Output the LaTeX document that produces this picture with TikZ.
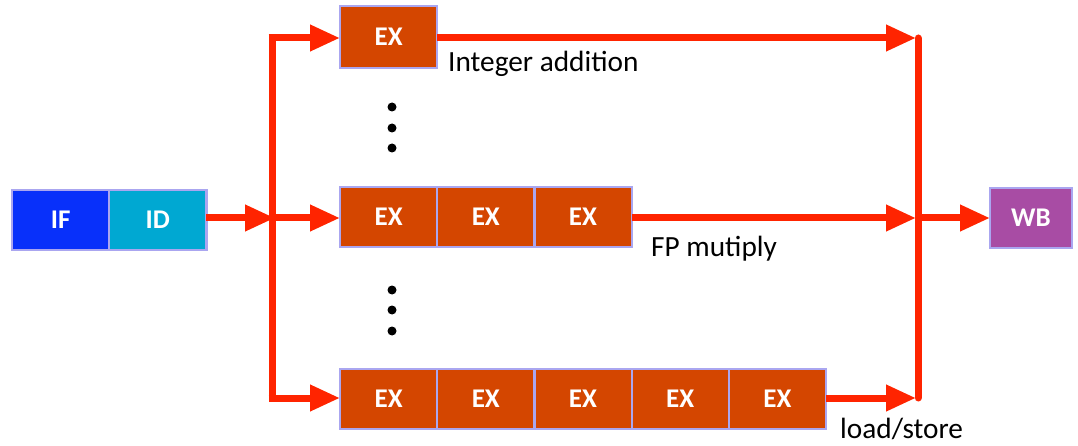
\documentclass[tikz,border=0pt]{standalone}
\usepackage{fontspec}
\setmainfont{Carlito}
\usetikzlibrary{arrows.meta,positioning}
\definecolor{ifblue}{RGB}{8,48,250}
\definecolor{idcyan}{RGB}{0,168,210}
\definecolor{exorange}{RGB}{212,70,0}
\definecolor{wbpurple}{RGB}{168,76,164}
\definecolor{edge}{RGB}{170,166,240}
\definecolor{wire}{RGB}{255,36,0}
\tikzset{
  stage/.style={draw=edge, line width=2.2pt, minimum width=97.2pt, minimum height=60pt,
    inner sep=0pt, outer sep=0pt, text=white, font=\fontsize{27}{30}\selectfont\bfseries},
  exbox/.style={stage, fill=exorange},
  bus/.style={wire, line width=7pt},
  flow/.style={wire, line width=7pt, -{Triangle[length=30pt,width=25pt]}},
  note/.style={font=\fontsize{29.3}{32}\selectfont, inner sep=0pt, anchor=base west},
  dot/.style={circle, fill=black, inner sep=0pt, minimum size=9pt}
}
\begin{document}
\begin{tikzpicture}[x=1pt,y=-1pt]
\useasboundingbox (0,0) rectangle (1078,446);
% front end
\node[stage, fill=ifblue, anchor=west] (if) at (12,220) {IF};
\node[stage, fill=idcyan, anchor=west] (id) at (if.east) {ID};
% split and merge points
\coordinate (ls) at (272,218);
\coordinate (lt) at (272,38);
\coordinate (lb) at (272,398);
\coordinate (rs) at (918,218);
\coordinate (rt) at (918,38);
\coordinate (rb) at (918,398);
% integer unit
\node[exbox, anchor=west, minimum height=62pt] (e1) at (340,37) {EX};
% FP multiply unit
\node[exbox, anchor=west] (m1) at (340,217) {EX};
\node[exbox, anchor=west] (m2) at (m1.east) {EX};
\node[exbox, anchor=west] (m3) at (m2.east) {EX};
% load/store unit
\node[exbox, anchor=west] (l1) at (340,399) {EX};
\node[exbox, anchor=west] (l2) at (l1.east) {EX};
\node[exbox, anchor=west] (l3) at (l2.east) {EX};
\node[exbox, anchor=west] (l4) at (l3.east) {EX};
\node[exbox, anchor=west] (l5) at (l4.east) {EX};
% write back
\node[stage, fill=wbpurple, anchor=west, minimum width=82pt] (wb) at (990,218) {WB};
% wires
\draw[bus, line cap=round] (lt) -- (lb);
\draw[bus, line cap=round] (rt) -- (rb);
\draw[flow] (id.east |- ls) -- ([xshift=3pt]ls);
\draw[flow] ([xshift=-3.5pt]lt) -- (e1.west |- lt);
\draw[flow] (ls) -- (m1.west |- ls);
\draw[flow] ([xshift=-3.5pt]lb) -- (l1.west |- lb);
\draw[flow] (e1.east |- rt) -- ([xshift=-2pt]rt);
\draw[flow] (m3.east |- rs) -- ([xshift=-2pt]rs);
\draw[flow] (l5.east |- rb) -- ([xshift=-2pt]rb);
\draw[flow] (rs) -- (wb.west);
% labels
\node[note] (la) at (448,72) {Integer addition};
\node[note] (lm) at (651,257) {FP mutiply};
\node[note] (ll) at (840,438) {load/store};
% ellipsis dots
\node[dot] (d1) at (392,107) {};
\node[dot] (d2) at (392,128) {};
\node[dot] (d3) at (392,148) {};
\node[dot] (d4) at (392,290) {};
\node[dot] (d5) at (392,310) {};
\node[dot] (d6) at (392,331) {};
\end{tikzpicture}
\end{document}
